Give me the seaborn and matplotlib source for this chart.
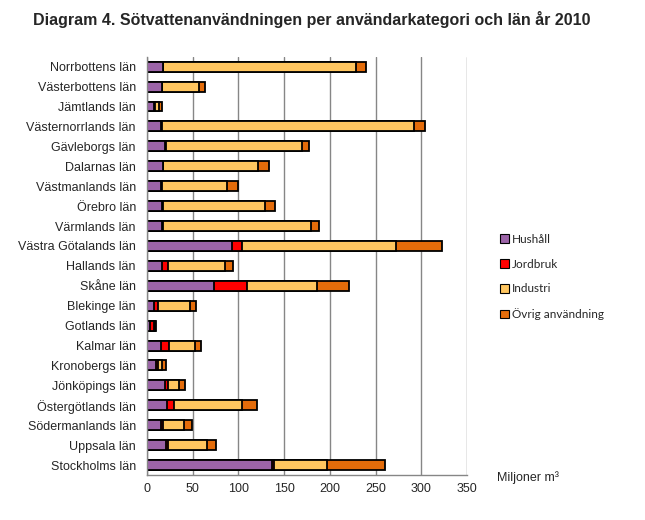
import numpy as np
import pandas as pd
import matplotlib
matplotlib.use("Agg")
import matplotlib.pyplot as plt
import matplotlib.patches as mpatches
import seaborn as sns

lan = ["Norrbottens län", "Västerbottens län", "Jämtlands län", "Västernorrlands län",
       "Gävleborgs län", "Dalarnas län", "Västmanlands län", "Örebro län", "Värmlands län",
       "Västra Götalands län", "Hallands län", "Skåne län", "Blekinge län", "Gotlands län",
       "Kalmar län", "Kronobergs län", "Jönköpings län", "Östergötlands län",
       "Södermanlands län", "Uppsala län", "Stockholms län"]
hushall  = [17, 16, 8, 15, 20, 17, 15, 16, 16, 93, 16, 73, 8, 3.5, 15, 10, 20, 22, 15, 21, 137]
jordbruk = [1, 0.5, 1, 1, 1, 1, 1, 2, 2, 11, 7, 36, 4, 4.5, 9, 2, 3, 7, 2, 2.5, 1.5]
industri = [211, 40, 4, 276, 148, 103, 72, 111, 161, 168, 62, 77, 35, 1, 28, 4.5, 12, 75, 24, 42, 58]
ovrig    = [11, 7, 3.5, 12, 8, 12, 12, 11, 9, 51, 9, 35, 7, 1, 7, 4.5, 7, 16, 8, 10.5, 64]
series = ["Hushåll", "Jordbruk", "Industri", "Övrig användning"]
colors = ["#9C64A8", "#FF0000", "#FFC660", "#E46C0A"]
xticks = [0, 50, 100, 150, 200, 250, 300, 350]

df = pd.DataFrame({"lan": lan, "Hushåll": hushall, "Jordbruk": jordbruk,
                   "Industri": industri, "Övrig användning": ovrig})
cum = df[series].cumsum(axis=1)

sns.set_style("white")
plt.rcParams["font.family"] = ["Liberation Sans", "DejaVu Sans"]

fig = plt.figure(figsize=(6.45, 5.2), dpi=100)
ax = fig.add_axes([147/645, 1 - 475/520, 320/645, (475 - 56.7)/520])

for s, c in reversed(list(zip(series, colors))):
    sns.barplot(x=cum[s], y=df["lan"], order=lan, orient="h", color=c,
                edgecolor="black", linewidth=1.3, width=0.5, ax=ax, saturation=1)

ax.set_xlim(0, 350)
ax.set_ylim(len(lan) - 0.5, -0.5)
ax.set_xticks(xticks)
ax.set_xticklabels([str(t) for t in xticks], fontsize=9)
ax.set_xlabel("")
ax.set_ylabel("")
ax.tick_params(axis="x", length=0, pad=6)
ax.tick_params(axis="y", which="major", length=0, pad=8, labelsize=9.0)
ax.set_yticks(np.arange(-0.5, len(lan), 1), minor=True)
ax.tick_params(axis="y", which="minor", length=5, color="#868686", width=1, direction="out")
ax.grid(axis="x", color="#868686", linewidth=1)
ax.set_axisbelow(True)
for sp in ["top", "right"]:
    ax.spines[sp].set_visible(False)
for sp in ["left", "bottom"]:
    ax.spines[sp].set_color("#868686")
    ax.spines[sp].set_linewidth(1)

fig.text(33/645, 1 - 20/520, "Diagram 4. Sötvattenanvändningen per användarkategori och län år 2010",
         fontsize=11.5, fontweight="bold", va="center", ha="left")
fig.text(497/645, 1 - 478/520, "Miljoner m³", fontsize=9, va="center", ha="left")

handles = [mpatches.Patch(facecolor=c, edgecolor="black", linewidth=0.8, label=s)
           for s, c in zip(series, colors)]
fig.legend(handles=handles, loc="upper left", bbox_to_anchor=(495/645, 1 - 229/520),
           frameon=False, prop={"family": "Lato", "size": 8.5},
           handlelength=0.75, handleheight=0.75, handletextpad=0.3, labelspacing=1.17,
           borderaxespad=0)

fig.savefig("out.png", dpi=100)
